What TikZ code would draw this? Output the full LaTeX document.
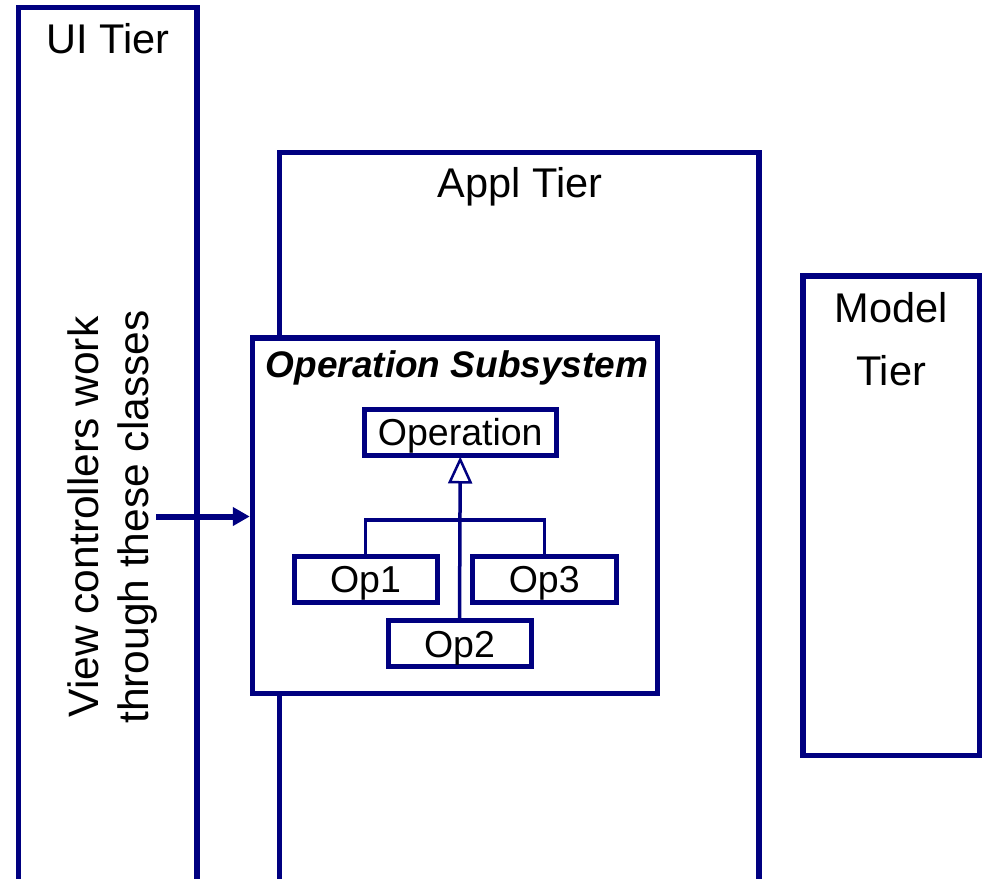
\documentclass[tikz,border=0pt]{standalone}
\usepackage{fontspec}
\setmainfont{Liberation Sans}
\usetikzlibrary{arrows.meta}
\definecolor{navy}{RGB}{0,0,128}
\tikzset{
  tierbox/.style={draw=navy, line width=5.5pt, inner sep=0pt},
  cls/.style={draw=navy, line width=5pt, fill=white, inner sep=0pt,
    minimum height=46pt, font=\fontsize{37.5}{40}\selectfont,
    text height=27pt, text depth=0pt},
  tiertext/.style={anchor=base, font=\fontsize{41.5}{48}\selectfont, inner sep=0pt},
  conn/.style={draw=navy, line width=3.5pt},
}
\begin{document}
\begin{tikzpicture}[x=1pt, y=-1pt]
\clip (0,0) rectangle (982,878);
% tier boxes
\node[tierbox, minimum width=178.5pt, minimum height=892.5pt] (ui) at (107.75,453.75) {};
\node[tierbox, minimum width=479.5pt, minimum height=747.5pt] (appl) at (519.25,526.25) {};
\node[tierbox, minimum width=176.5pt, minimum height=479.5pt] (model) at (891.25,515.75) {};
% tier labels
\node[tiertext] (uit) at (108,53) {UI Tier};
\node[tiertext] (applt) at (520,197) {Appl Tier};
\node[tiertext] (modelt1) at (891,322) {Model};
\node[tiertext] (modelt2) at (891,385) {Tier};
% vertical text
\node[anchor=base, rotate=90, inner sep=0pt, font=\fontsize{42.5}{48}\selectfont] (vt1) at (98,517) {View controllers work};
\node[anchor=base, rotate=90, inner sep=0pt, font=\fontsize{42.5}{48}\selectfont] (vt2) at (148,517) {through these classes};
% operation subsystem
\node[tierbox, fill=white, minimum width=405pt, minimum height=355.5pt] (opsub) at (455,515.75) {};
\node[anchor=base, inner sep=0pt, font=\fontsize{37}{40}\selectfont\bfseries\itshape] (opsubt) at (457,377) {Operation Subsystem};
% classes
\node[cls, minimum width=191.5pt, minimum height=45.5pt] (op) at (460.25,432.25) {Operation};
\node[cls, minimum width=143pt] (op1) at (365.5,579) {Op1};
\node[cls, minimum width=143.5pt] (op3) at (544.25,579) {Op3};
\node[cls, minimum width=143pt, minimum height=45.7pt] (op2) at (459.5,643.8) {Op2};
% inheritance
\coordinate (bar) at (459.5,520);
\draw[conn] (op1.north) |- (bar) -| (op3.north);
\draw[conn, -{Triangle[open, length=27pt, width=24pt, line width=2.5pt]}, shorten >=-1pt] (op2.north) -- (op.south);
% arrow from text
\coordinate (vstart) at (156,516.5);
\draw[draw=navy, line width=6pt, -{Triangle[length=17pt, width=18pt]}, navy] (vstart) -- (opsub.west |- vstart);
\end{tikzpicture}
\end{document}
